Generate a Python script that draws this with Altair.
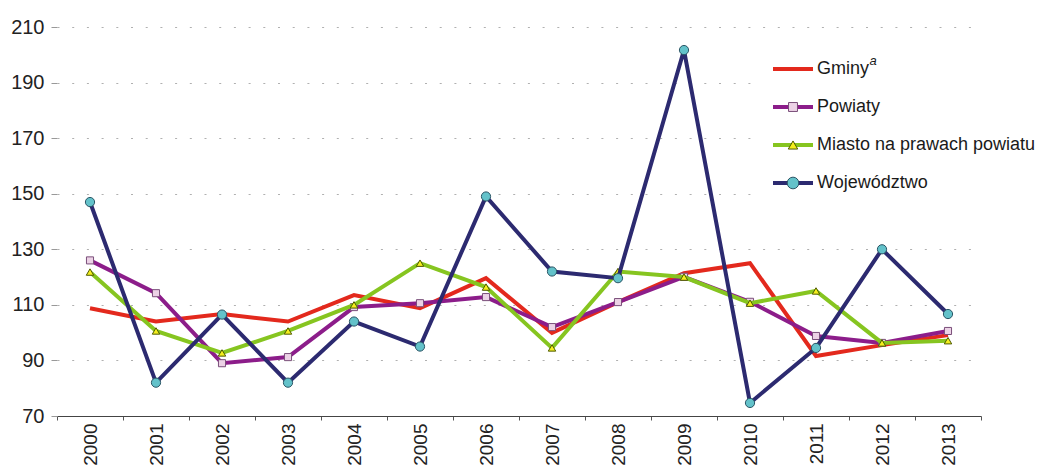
import altair as alt
import pandas as pd

# ---------------- data ----------------
years = [str(y) for y in range(2000, 2014)]
series_names = ["Gminy", "Powiaty", "Miasto na prawach powiatu", "Województwo"]
gminy = [108.8, 104.0, 106.7, 104.0, 113.5, 108.8, 119.6, 99.9, 111.0, 121.4, 125.0, 91.6, 95.5, 99.1]
powiaty = [126.0, 114.2, 89.0, 91.2, 109.2, 110.6, 112.8, 102.0, 111.0, 120.1, 111.1, 98.8, 96.3, 100.6]
miasto = [121.8, 100.6, 92.7, 100.6, 110.0, 125.0, 116.4, 94.5, 122.0, 120.0, 110.6, 115.0, 96.3, 97.1]
wojewodztwo = [147.0, 82.0, 106.5, 82.0, 104.0, 95.0, 149.0, 122.0, 119.6, 201.7, 74.7, 94.5, 130.0, 106.7]
y_ticks = [70, 90, 110, 130, 150, 170, 190, 210]

values_by_series = dict(zip(series_names, [gminy, powiaty, miasto, wojewodztwo]))
df = pd.DataFrame(
    [{"year": y, "series": s, "value": v}
     for s in series_names for y, v in zip(years, values_by_series[s])]
)
legend_df = pd.DataFrame({"series": series_names})

# ---------------- styles ----------------
FONT = "Liberation Sans"
styles = {
    "Gminy": {"line": "#e3291d", "marker": None},
    "Powiaty": {"line": "#8c1d8a",
                "marker": {"shape": "square", "size": 50, "fill": "#ecd2e6", "stroke": "#7a4f7a"}},
    "Miasto na prawach powiatu": {"line": "#86c520",
                "marker": {"shape": "triangle-up", "size": 55, "fill": "#f4ee1e", "stroke": "#4d5a00"}},
    "Województwo": {"line": "#2c2a70",
                "marker": {"shape": "circle", "size": 85, "fill": "#63c2ca", "stroke": "#2a5565"}},
}

x_enc = alt.X(
    "year:O",
    scale=alt.Scale(type="band", domain=years, paddingInner=0, paddingOuter=0),
    axis=alt.Axis(
        title=None, labelAngle=270, labelFont=FONT, labelFontSize=19, labelColor="#222222",
        labelPadding=3, tickBand="extent", tickSize=4, tickColor="#555555",
        domainColor="#444444", domainWidth=1, grid=False,
    ),
)
y_enc = alt.Y(
    "value:Q",
    scale=alt.Scale(domain=[70, 210], nice=False, zero=False),
    axis=alt.Axis(
        title=None, values=y_ticks, labelFont=FONT, labelFontSize=20, labelColor="#222222",
        labelPadding=7, tickSize=6, tickColor="#999999", domain=False,
        grid=True, gridDash=[2, 12.7], gridColor="#b0b0b0", gridWidth=1.2,
    ),
)

main_layers = []
for s in series_names:
    st = styles[s]
    base = alt.Chart(df).transform_filter(alt.datum.series == s)
    main_layers.append(
        base.mark_line(color=st["line"], strokeWidth=4, strokeJoin="miter").encode(x=x_enc, y=y_enc)
    )
    m = st["marker"]
    if m:
        main_layers.append(
            base.mark_point(shape=m["shape"], size=m["size"], filled=True, fill=m["fill"],
                            stroke=m["stroke"], strokeWidth=1, opacity=1).encode(x=x_enc, y=y_enc)
        )
main = alt.layer(*main_layers)

# ---------------- legend (drawn as marks) ----------------
ly = alt.Y("series:N", scale=alt.Scale(type="point", domain=series_names, range=[42, 156], padding=0),
           axis=None)

legend_bg = alt.Chart(legend_df.head(1)).mark_rect(color="white").encode(
    x=alt.value(695), x2=alt.value(940), y=alt.value(20), y2=alt.value(200)
)

legend_layers = []
for s in series_names:
    st = styles[s]
    lbase = alt.Chart(legend_df).transform_filter(alt.datum.series == s)
    legend_layers.append(
        lbase.mark_rule(color=st["line"], strokeWidth=4).encode(x=alt.value(716), x2=alt.value(756), y=ly)
    )
    m = st["marker"]
    if m:
        legend_layers.append(
            lbase.mark_point(shape=m["shape"], size=m["size"] * 1.6, filled=True, fill=m["fill"],
                             stroke=m["stroke"], strokeWidth=1, opacity=1).encode(x=alt.value(736), y=ly)
        )
legend_layers.append(
    alt.Chart(legend_df).mark_text(align="left", baseline="middle", font=FONT, fontSize=18,
                                   color="#1a1a1a").encode(x=alt.value(760), y=ly, text="series:N")
)
legend_layers.append(
    alt.Chart(legend_df).transform_filter(alt.datum.series == "Gminy").mark_text(
        text="a", align="left", baseline="middle", font=FONT, fontSize=13, fontStyle="italic",
        color="#1a1a1a", dy=-8
    ).encode(x=alt.value(812.5), y=ly)
)
legend = alt.layer(*legend_layers)

chart = (
    alt.layer(legend_bg, main, legend)
    .resolve_scale(y="independent")
    .properties(
        width=924, height=389,
        padding={"left": 49, "top": 19, "right": 57, "bottom": 50},
        autosize=alt.AutoSizeParams(type="none"),
        background="white",
    )
    .configure_view(stroke=None)
)

chart.save("out.html", embed_options={"renderer": "svg", "actions": False})
